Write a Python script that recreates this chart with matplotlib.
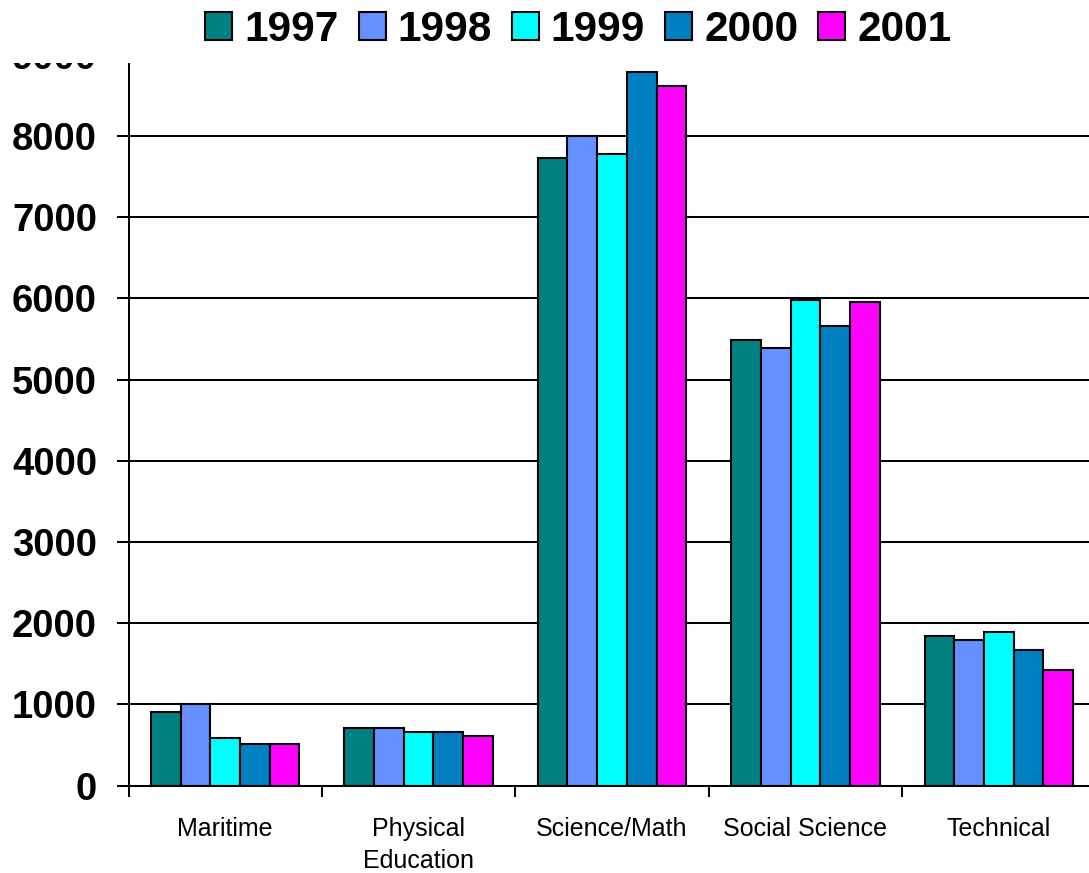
import numpy as np
import matplotlib
matplotlib.use("Agg")
import matplotlib.pyplot as plt
from matplotlib.patches import Rectangle

# -----------------------------------
# Data
# -----------------------------------

categories = ["Maritime", "Physical\nEducation", "Science/Math", "Social Science", "Technical"]
years = ["1997", "1998", "1999", "2000", "2001"]

v1997 = [910, 710, 7730, 5490, 1845]
v1998 = [1000, 710, 8000, 5390, 1795]
v1999 = [590, 660, 7780, 5980, 1895]
v2000 = [510, 660, 8790, 5660, 1670]
v2001 = [510, 615, 8620, 5960, 1420]

series = [v1997, v1998, v1999, v2000, v2001]
colors = ["#008080", "#6690FF", "#00FFFF", "#0080C0", "#FF00FF"]

yticks = [0, 1000, 2000, 3000, 4000, 5000, 6000, 7000, 8000, 9000]

# -----------------------------------
# Figure
# -----------------------------------

plt.rcParams["font.family"] = ["Liberation Sans", "DejaVu Sans"]

fig = plt.figure(figsize=(10.89, 8.73), dpi=100)
ax = fig.add_axes([0.118, 0.1002, 0.888, 0.8371])

x = np.arange(len(categories))
bar_w = 0.1535

for i, (vals, col, yr) in enumerate(zip(series, colors, years)):
    ax.bar(x + (i - 2) * bar_w, vals, width=bar_w, color=col,
           edgecolor="black", linewidth=1.5, label=yr, zorder=3)

ax.set_xlim(-0.5, len(categories) - 0.5)
ax.set_ylim(0, 9000)
ax.set_yticks(yticks)
ax.set_yticklabels([str(t) for t in yticks], fontsize=27.5, fontweight="bold")
ax.yaxis.grid(True, color="black", linewidth=1.45, zorder=0)
ax.set_axisbelow(True)

ax.set_xticks(x)
ax.set_xticklabels(categories, fontsize=18, linespacing=1.4)
ax.set_xticks(np.arange(len(categories) + 1) - 0.5, minor=True)
ax.tick_params(axis="x", which="major", length=0, pad=23)
ax.tick_params(axis="x", which="minor", length=8, width=1.45, direction="out")
ax.tick_params(axis="y", length=8.6, width=1.45, direction="out", pad=14)

for side in ["top", "right"]:
    ax.spines[side].set_visible(False)
for side in ["left", "bottom"]:
    ax.spines[side].set_linewidth(1.45)

# white band across the top that hides the upper part of the plot
fig.patches.append(Rectangle((0, 1 - 63 / 873), 1, 63 / 873, transform=fig.transFigure,
                             facecolor="white", edgecolor="none", zorder=10))

leg = fig.legend(loc="center", bbox_to_anchor=(0.531, 1 - 30 / 873), ncol=5,
                 frameon=False, prop={"size": 30.5, "weight": "bold"},
                 handlelength=0.64, handleheight=0.64, handletextpad=0.28,
                 columnspacing=0.47, borderaxespad=0)
leg.set_zorder(11)
for h in leg.legend_handles:
    h.set_linewidth(1.5)

fig.savefig("out.png", dpi=100)
